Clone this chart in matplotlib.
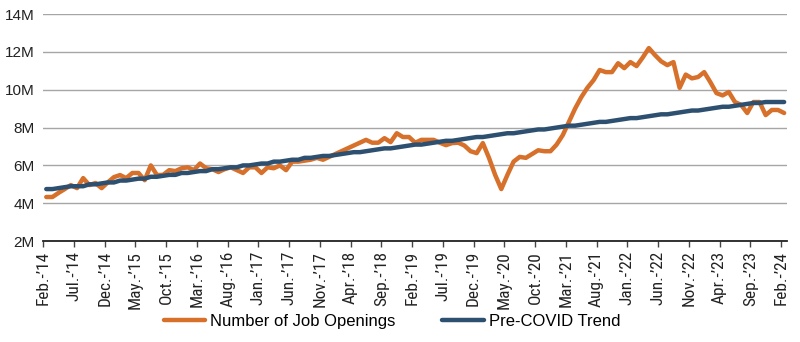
import matplotlib
matplotlib.use("Agg")
import matplotlib.pyplot as plt
from matplotlib import font_manager

# Monthly job openings (millions), Feb 2014 - Feb 2024
job_openings = [
    4.33, 4.33, 4.55, 4.75, 4.96, 4.80, 5.33, 4.96, 5.07, 4.80,  # Feb-14 .. Nov-14
    5.10, 5.38, 5.49, 5.33, 5.60, 5.60, 5.22, 6.00, 5.49, 5.50,  # Dec-14 .. Sep-15
    5.75, 5.70, 5.85, 5.90, 5.75, 6.10, 5.85, 5.80, 5.65, 5.80,  # Oct-15 .. Jul-16
    5.90, 5.75, 5.60, 5.90, 5.90, 5.60, 5.90, 5.85, 6.00, 5.75,  # Aug-16 .. May-17
    6.20, 6.20, 6.25, 6.30, 6.40, 6.30, 6.45, 6.60, 6.75, 6.90,  # Jun-17 .. Mar-18
    7.05, 7.20, 7.35, 7.20, 7.20, 7.44, 7.23, 7.70, 7.50, 7.50,  # Apr-18 .. Jan-19
    7.20, 7.35, 7.35, 7.35, 7.20, 7.07, 7.18, 7.20, 7.05, 6.75,  # Feb-19 .. Nov-19
    6.65, 7.18, 6.40, 5.50, 4.75, 5.50, 6.20, 6.45, 6.40, 6.60,  # Dec-19 .. Sep-20
    6.80, 6.75, 6.75, 7.10, 7.60, 8.30, 9.00, 9.60, 10.10, 10.50,  # Oct-20 .. Jul-21
    11.04, 10.93, 10.93, 11.40, 11.14, 11.46, 11.25, 11.70, 12.20, 11.83,  # Aug-21 .. May-22
    11.50, 11.30, 11.46, 10.10, 10.80, 10.60, 10.67, 10.93, 10.40, 9.82,  # Jun-22 .. Mar-23
    9.70, 9.88, 9.35, 9.20, 8.77, 9.35, 9.35, 8.66, 8.93, 8.93,  # Apr-23 .. Jan-24
    8.77,  # Feb-24
]

# Pre-COVID trend (millions), same months
pre_covid_trend = [
    4.75, 4.75, 4.80, 4.85, 4.90, 4.90, 4.90, 5.00, 5.00, 5.05,
    5.10, 5.10, 5.20, 5.20, 5.25, 5.30, 5.30, 5.40, 5.40, 5.45,
    5.50, 5.50, 5.60, 5.60, 5.65, 5.70, 5.70, 5.80, 5.80, 5.85,
    5.90, 5.90, 6.00, 6.00, 6.05, 6.10, 6.10, 6.20, 6.20, 6.25,
    6.30, 6.30, 6.40, 6.40, 6.45, 6.50, 6.50, 6.55, 6.60, 6.65,
    6.70, 6.70, 6.75, 6.80, 6.85, 6.90, 6.90, 6.95, 7.00, 7.05,
    7.10, 7.10, 7.15, 7.20, 7.25, 7.30, 7.30, 7.35, 7.40, 7.45,
    7.50, 7.50, 7.55, 7.60, 7.65, 7.70, 7.70, 7.75, 7.80, 7.85,
    7.90, 7.90, 7.95, 8.00, 8.05, 8.10, 8.10, 8.15, 8.20, 8.25,
    8.30, 8.30, 8.35, 8.40, 8.45, 8.50, 8.50, 8.55, 8.60, 8.65,
    8.70, 8.70, 8.75, 8.80, 8.85, 8.90, 8.90, 8.95, 9.00, 9.05,
    9.10, 9.10, 9.15, 9.20, 9.25, 9.30, 9.30, 9.35, 9.35, 9.35,
    9.35,
]

tick_labels = [
    "Feb.-’14", "Jul.-’14", "Dec.-’14", "May.-’15", "Oct.-’15", "Mar.-’16",
    "Aug.-’16", "Jan.-’17", "Jun.-’17", "Nov.-’17", "Apr.-’18", "Sep.-’18",
    "Feb.-’19", "Jul.-’19", "Dec.-’19", "May.-’20", "Oct.-’20", "Mar.-’21",
    "Aug.-’21", "Jan.-’22", "Jun.-’22", "Nov.-’22", "Apr.-’23", "Sep.-’23",
    "Feb.-’24",
]
y_ticks = [2, 4, 6, 8, 10, 12, 14]

installed = {f.name for f in font_manager.fontManager.ttflist}
base = "Liberation Sans" if "Liberation Sans" in installed else "DejaVu Sans"


def pick_narrow_font():
    """Find a condensed sans-serif face for the date labels, if one exists."""
    cands = []
    for f in font_manager.fontManager.ttflist:
        name = f.name.lower()
        fname = f.fname.lower()
        if "serif" in name and "sans" not in name:
            continue
        if "mono" in name or "mono" in fname:
            continue
        if f.style != "normal" or f.weight not in (400, "normal", "regular"):
            continue
        cond = (f.stretch in ("condensed", "semi-condensed", "extra-condensed")
                or "narrow" in name or "condensed" in name
                or "narrow" in fname or "condensed" in fname)
        if not cond:
            continue
        score = 0
        if "liberation" in name and "narrow" in name:
            score = 3
        elif "roboto" in name:
            score = 2
        elif "dejavu" in name:
            score = 1
        cands.append((score, f.fname))
    if cands:
        cands.sort(reverse=True)
        return font_manager.FontProperties(fname=cands[0][1], size=12.4)
    return font_manager.FontProperties(family=base, size=9.5)


narrow_fp = pick_narrow_font()

ORANGE = "#D6702A"
BLUE = "#2E5070"

fig = plt.figure(figsize=(8.0, 3.42), dpi=100)
ax = fig.add_axes([0.054, 0.295, 0.93, 0.664])

x = [i + 0.5 for i in range(len(job_openings))]
ax.plot(x, job_openings, color=ORANGE, lw=3.2, solid_joinstyle="round",
        solid_capstyle="round", label="Number of Job Openings", zorder=3)
ax.plot(x, pre_covid_trend, color=BLUE, lw=3.2, solid_joinstyle="round",
        solid_capstyle="round", label="Pre-COVID Trend", zorder=4)

ax.set_xlim(0, 121)
ax.set_ylim(2, 14)
ax.set_yticks(y_ticks)
ax.set_yticklabels([f"{v}M" for v in y_ticks], family=base, fontsize=11, color="#222222")
ax.set_xticks(range(0, 121, 5))
ax.set_xticklabels(tick_labels, rotation=90, color="#222222")
for lbl in ax.get_xticklabels():
    lbl.set_fontproperties(narrow_fp)

ax.grid(axis="y", color="#A6A6A6", lw=1.0)
ax.set_axisbelow(True)
for s in ("top", "right", "left"):
    ax.spines[s].set_visible(False)
ax.spines["bottom"].set_color("#222222")
ax.spines["bottom"].set_linewidth(1.3)
ax.tick_params(axis="y", length=0, pad=6)
ax.tick_params(axis="x", length=4, width=1, color="#444444", pad=3)

leg = fig.legend(loc="lower center", bbox_to_anchor=(0.49, -0.005), ncol=2,
                 frameon=False, prop={"family": base, "size": 12},
                 handlelength=2.5, columnspacing=2.8, handletextpad=0.3)
for line in leg.get_lines():
    line.set_linewidth(3.2)

fig.savefig("out.png", dpi=100)
